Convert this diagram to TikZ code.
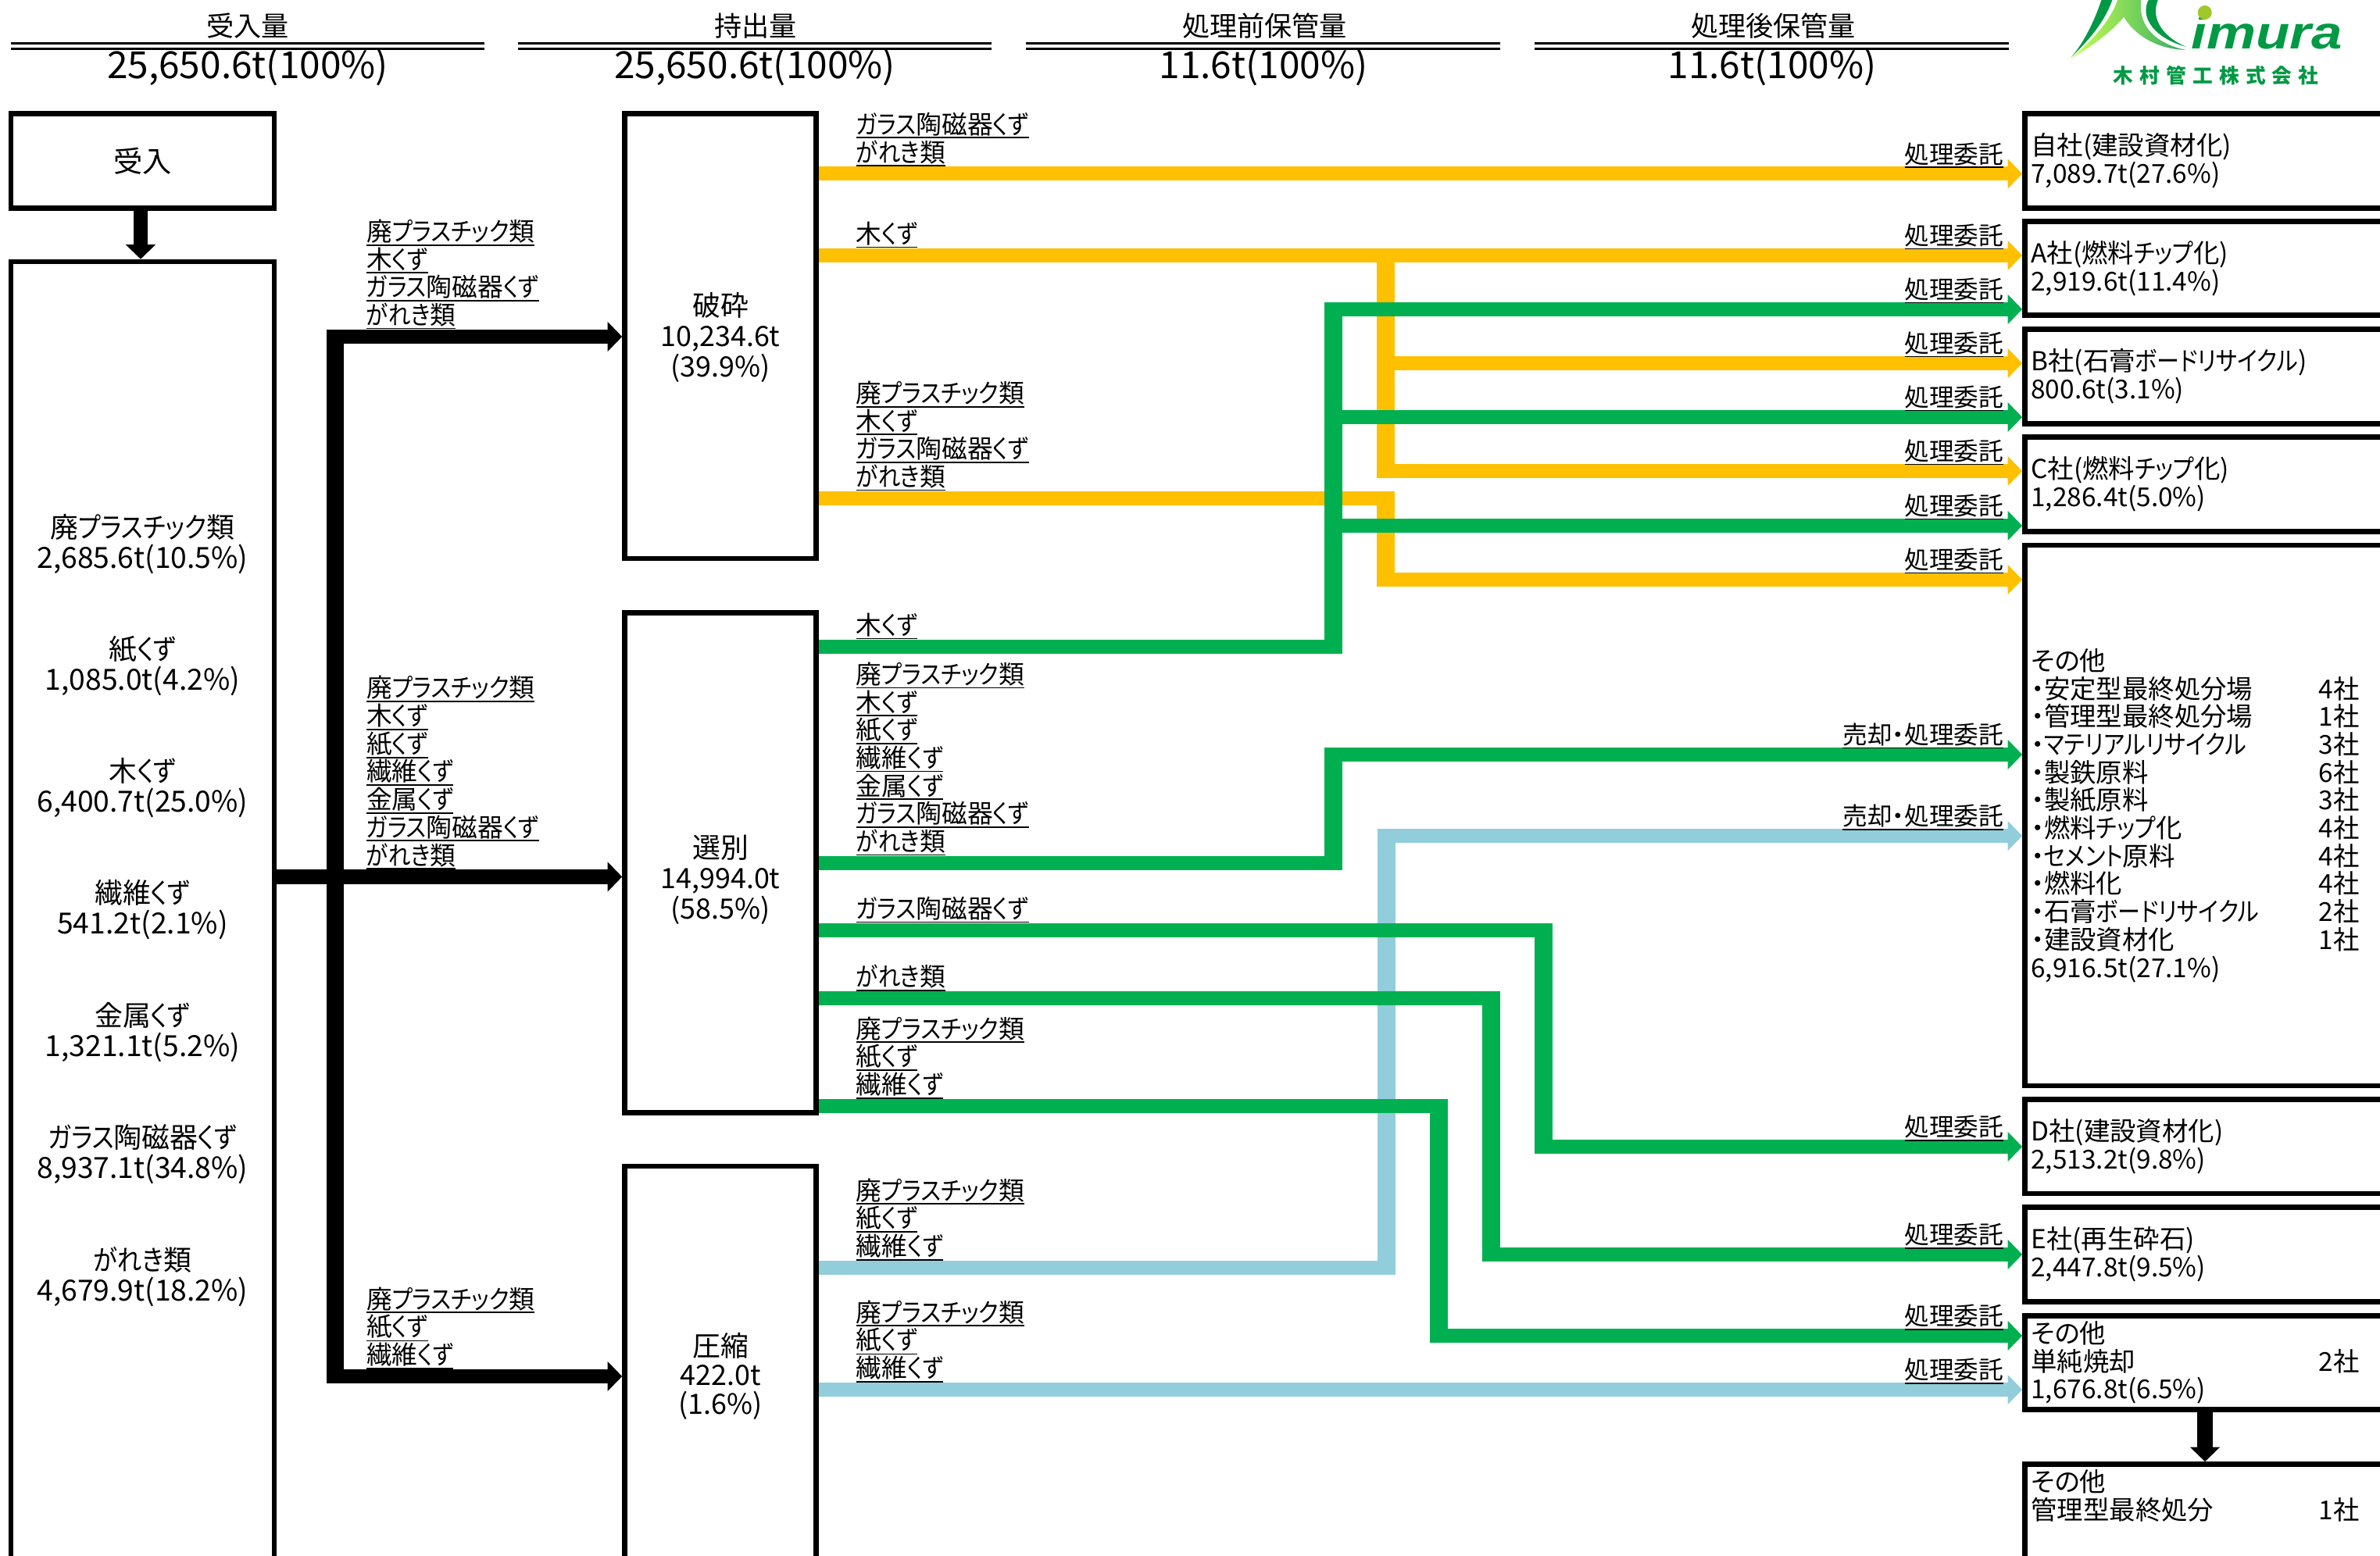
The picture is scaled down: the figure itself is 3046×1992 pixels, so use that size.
\documentclass[tikz,border=0pt]{standalone}
\usepackage{fontspec}
\usepackage{tikz}
\usetikzlibrary{arrows.meta}
\setmainfont{Noto Sans CJK JP}[RawFeature={+palt}]
\newfontfamily\kanafont{Noto Sans CJK JP}[RawFeature={+palt}, FakeStretch=.87]
\newfontfamily\logofont{Liberation Sans}
\newfontfamily\logojp{Noto Sans CJK JP}[LetterSpace=32]
\newcommand{\smallfont}{\fontsize{9.5}{10.15}\selectfont\lineskiplimit=-5pt }
\newcommand{\labfont}{\fontsize{9.3}{10.15}\selectfont\lineskiplimit=-5pt }
\newcommand{\midfont}{\fontsize{10.2}{11.1}\selectfont\lineskiplimit=-5pt }
\newcommand{\tightfont}{\fontsize{10.2}{10.5}\selectfont\lineskiplimit=-5pt }
\newcommand{\kn}[1]{{\kanafont #1}}
\newcommand{\kul}[1]{\vtop{\hbox{#1}\kern.4pt\hrule height .55pt}}
\newcommand{\kval}[1]{{\fontsize{10.6}{11.1}\selectfont #1}}
\newcommand{\kcount}[2]{\makebox[4.2cm][l]{#1\hfill #2}}
\newcommand{\kpla}{廃\kn{プラスチック}類}
\newcommand{\kwood}{木\kn{くず}}
\newcommand{\kpaper}{紙\kn{くず}}
\newcommand{\kfiber}{繊維\kn{くず}}
\newcommand{\kmetal}{金属\kn{くず}}
\newcommand{\kglass}{\kn{ガラス}陶磁器\kn{くず}}
\newcommand{\krubble}{\kn{がれき}類}
\newcommand{\kitaku}{\kul{処理委託}}
\newcommand{\ksale}{\kul{売却・処理委託}}
\definecolor{oflow}{HTML}{FFC000}
\definecolor{gflow}{HTML}{00B050}
\definecolor{lflow}{HTML}{92CDDC}
\definecolor{kgreen}{HTML}{009944}

\begin{document}
\begin{tikzpicture}[
                x = .01cm, y = -.01cm,
                > = {Triangle[length=.185cm, width=.37cm]},
                box/.style={ rectangle, draw = black, line width = .065cm, inner sep = 0pt, font = \midfont, align = center },
                side/.style={ box, minimum width = 4.61cm, text width = 4.45cm, align = left, font = \smallfont },
                item/.style={ font = \midfont, align = center, inner sep = 0pt },
                head/.style={ font = \fontsize{10}{11}\selectfont, inner sep = 0pt },
                total/.style={ font = \fontsize{13.6}{14}\selectfont, inner sep = 0pt },
                hline/.style={ line width = .033cm, double, double distance = .033cm },
                oline/.style={ oflow, line width = .18cm },
                gline/.style={ gflow, line width = .18cm },
                lline/.style={ lflow, line width = .18cm },
                kline/.style={ black, line width = .18cm },
                obar/.style={ oflow, line width = .23cm },
                gbar/.style={ gflow, line width = .23cm },
                lbar/.style={ lflow, line width = .23cm },
                kbar/.style={ black, line width = .225cm },
                lab/.style={ pos = 0, anchor = south west, xshift = .48cm, yshift = .095cm, inner sep = 0pt, outer sep = 0pt, align = left, font = \labfont, black },
                task/.style={ pos = 1, anchor = south east, xshift = -.24cm, yshift = .075cm, inner sep = 0pt, outer sep = 0pt, font = \fontsize{9}{10}\selectfont, black }
            ]
            \useasboundingbox (0, 0) rectangle (3046, 1992);
            \clip (0, 0) rectangle (3046, 1992);

            % headings
            \node (h1) [head] at (317, 33) {受入量};
            \node (h2) [head] at (967, 33) {持出量};
            \node (h3) [head] at (1618.5, 33) {処理前保管量};
            \node (h4) [head] at (2269.5, 33) {処理後保管量};
            \draw [hline] (14, 59) -- (620, 59);
            \draw [hline] (663, 59) -- (1269, 59);
            \draw [hline] (1313, 59) -- (1920, 59);
            \draw [hline] (1964, 59) -- (2571, 59);
            \node (t1) [total] at (317, 86) {25,650.6t(100\%)};
            \node (t2) [total] at (966, 86) {25,650.6t(100\%)};
            \node (t3) [total] at (1617, 86) {11.6t(100\%)};
            \node (t4) [total] at (2268, 86) {11.6t(100\%)};

            % logo
            \begin{scope}[shift={(2640, 0)}, x = .00333cm, y = -.00333cm]
                \fill [kgreen] (150, -5) .. controls (120, 90) and (70, 180) .. (30, 222)
                    .. controls (90, 165) and (160, 90) .. (192, -5) -- cycle;
                \shade [left color = yellow!70!green!70, right color = kgreen!80] (212, -5)
                    .. controls (190, 70) and (120, 150) .. (35, 222)
                    .. controls (110, 180) and (190, 120) .. (235, 65)
                    .. controls (270, 130) and (360, 190) .. (472, 192)
                    .. controls (370, 170) and (285, 110) .. (302, -5) -- cycle;
                \fill [kgreen] (332, -5) .. controls (290, 70) and (360, 150) .. (475, 180)
                    .. controls (400, 150) and (330, 80) .. (368, -5) -- cycle;
            \end{scope}
            \node (imura) [kgreen, font = \logofont\bfseries\itshape\fontsize{16.8}{17}\selectfont, xscale = 1.2, transform shape, anchor = base west, inner sep = 0pt] at (2804, 63) {imura};
            \fill [yellow!65!green!90!black] (2821.7, 16) circle [radius = 9];
            \node (company) [kgreen, font = \logojp\bfseries\fontsize{7.3}{8}\selectfont, inner sep = 0pt] at (2836, 97) {木村管工株式会社};

            % boxes on the left and in the middle
            \node (ukeire) [box, minimum width = 3.37cm, minimum height = 1.21cm, font = \fontsize{10.6}{11}\selectfont] at (182.5, 206) {受入};
            \node (hinmoku) [box, minimum width = 3.37cm, minimum height = 17.64cm] at (182.5, 1217.5) {};
            \node (i1) [item] at (182.5, 697) {\kpla\\\kval{2,685.6t(10.5\%)}};
            \node (i2) [item] at (182.5, 853) {\kpaper\\\kval{1,085.0t(4.2\%)}};
            \node (i3) [item] at (182.5, 1009) {\kwood\\\kval{6,400.7t(25.0\%)}};
            \node (i4) [item] at (182.5, 1165) {\kfiber\\\kval{541.2t(2.1\%)}};
            \node (i5) [item] at (182.5, 1322) {\kmetal\\\kval{1,321.1t(5.2\%)}};
            \node (i6) [item] at (182.5, 1478) {\kglass\\\kval{8,937.1t(34.8\%)}};
            \node (i7) [item] at (182.5, 1634) {\krubble\\\kval{4,679.9t(18.2\%)}};

            \node (hasai) [box, minimum width = 2.45cm, minimum height = 5.695cm] at (922, 430.25) {};
            \node (hasait) [item] at (922, 432) {破砕\\10,234.6t\\(39.9\%)};
            \node (senbetsu) [box, minimum width = 2.45cm, minimum height = 6.40cm] at (922, 1104.5) {};
            \node (sent) [item] at (922, 1126) {選別\\14,994.0t\\(58.5\%)};
            \node (asshuku) [box, minimum width = 2.45cm, minimum height = 5.34cm] at (922, 1760) {};
            \node (assht) [item, font = \tightfont] at (922, 1762) {圧縮\\422.0t\\(1.6\%)};

            % boxes on the right
            \node (jisha) [side, minimum height = 1.21cm] at (2822, 206) {自社(建設資材化)\\7,089.7t(27.6\%)};
            \node (asha) [side, minimum height = 1.20cm] at (2822, 343.5) {A社(燃料\kn{チップ}化)\\2,919.6t(11.4\%)};
            \node (bsha) [side, minimum height = 1.21cm] at (2822, 482) {B社(石膏\kn{ボードリサイクル})\\800.6t(3.1\%)};
            \node (csha) [side, minimum height = 1.21cm] at (2822, 620) {C社(燃料\kn{チップ}化)\\1,286.4t(5.0\%)};
            \node (sonota) [side, minimum height = 6.915cm] at (2822, 1044) {その他\\
                \kcount{・安定型最終処分場}{4社}\\
                \kcount{・管理型最終処分場}{1社}\\
                \kcount{・\kn{マテリアルリサイクル}}{3社}\\
                \kcount{・製鉄原料}{6社}\\
                \kcount{・製紙原料}{3社}\\
                \kcount{・燃料\kn{チップ}化}{4社}\\
                \kcount{・\kn{セメント}原料}{4社}\\
                \kcount{・燃料化}{4社}\\
                \kcount{・石膏\kn{ボードリサイクル}}{2社}\\
                \kcount{・建設資材化}{1社}\\
                6,916.5t(27.1\%)};
            \node (dsha) [side, minimum height = 1.205cm] at (2822, 1467.75) {D社(建設資材化)\\2,513.2t(9.8\%)};
            \node (esha) [side, minimum height = 1.21cm] at (2822, 1606) {E社(再生砕石)\\2,447.8t(9.5\%)};
            \node (shokyaku) [side, minimum height = 1.20cm] at (2822, 1744.5) {その他\\\kcount{単純焼却}{2社}\\1,676.8t(6.5\%)};
            \node (saishu) [side, minimum height = 2.51cm] at (2822, 2000) {};
            \node (saishut) [inner sep = 0pt, text width = 4.45cm, align = left, font = \smallfont] at (2822, 1915) {その他\\\kcount{管理型最終処分}{1社}};

            % orange routes
            \draw [oline, ->] (hasai.east |- 0, 222.5) -- node[lab]{\kul{\kglass}\\\kul{\krubble}} node[task]{\kitaku} (jisha.west |- 0, 222.5);
            \draw [oline, ->] (hasai.east |- 0, 327) -- node[lab]{\kul{\kwood}} node[task]{\kitaku} (asha.west |- 0, 327);
            \draw [obar] (1773.5, 318) -- (1773.5, 612);
            \draw [oline, ->] (1773.5, 465) -- node[task]{\kitaku} (bsha.west |- 0, 465);
            \draw [oline, ->] (1773.5, 603) -- node[task]{\kitaku} (csha.west |- 0, 603);
            \draw [oline] (hasai.east |- 0, 638) -- node[lab]{\kul{\kpla}\\\kul{\kwood}\\\kul{\kglass}\\\kul{\krubble}} (1785, 638);
            \draw [obar] (1773.5, 629) -- (1773.5, 751);
            \draw [oline, ->] (1773.5, 742) -- node[task]{\kitaku} (sonota.west |- 0, 742);

            % light blue routes
            \draw [lline] (asshuku.east |- 0, 1623) -- node[lab]{\kul{\kpla}\\\kul{\kpaper}\\\kul{\kfiber}} (1785.5, 1623);
            \draw [lbar] (1774, 1632) -- (1774, 1061);
            \draw [lline, ->] (1774, 1070) -- node[task]{\ksale} (sonota.west |- 0, 1070);
            \draw [lline, ->] (asshuku.east |- 0, 1779) -- node[lab]{\kul{\kpla}\\\kul{\kpaper}\\\kul{\kfiber}} node[task]{\kitaku} (shokyaku.west |- 0, 1779);

            % green routes
            \draw [gline] (senbetsu.east |- 0, 828) -- node[lab]{\kul{\kwood}} (1717.5, 828);
            \draw [gbar] (1706, 837) -- (1706, 387);
            \draw [gline, ->] (1706, 396) -- node[task]{\kitaku} (asha.west |- 0, 396);
            \draw [gline, ->] (1706, 534) -- node[task]{\kitaku} (bsha.west |- 0, 534);
            \draw [gline, ->] (1706, 673) -- node[task]{\kitaku} (csha.west |- 0, 673);
            \draw [gline] (senbetsu.east |- 0, 1105) -- node[lab]{\kul{\kpla}\\\kul{\kwood}\\\kul{\kpaper}\\\kul{\kfiber}\\\kul{\kmetal}\\\kul{\kglass}\\\kul{\krubble}} (1717.5, 1105);
            \draw [gbar] (1706, 1114) -- (1706, 957);
            \draw [gline, ->] (1706, 966) -- node[task]{\ksale} (sonota.west |- 0, 966);
            \draw [gline] (senbetsu.east |- 0, 1191) -- node[lab]{\kul{\kglass}} (1986.5, 1191);
            \draw [gbar] (1975, 1182) -- (1975, 1477);
            \draw [gline, ->] (1975, 1468) -- node[task]{\kitaku} (dsha.west |- 0, 1468);
            \draw [gline] (senbetsu.east |- 0, 1278) -- node[lab]{\kul{\krubble}} (1919.5, 1278);
            \draw [gbar] (1908, 1269) -- (1908, 1615);
            \draw [gline, ->] (1908, 1606) -- node[task]{\kitaku} (esha.west |- 0, 1606);
            \draw [gline] (senbetsu.east |- 0, 1416) -- node[lab]{\kul{\kpla}\\\kul{\kpaper}\\\kul{\kfiber}} (1852.5, 1416);
            \draw [gbar] (1841, 1407) -- (1841, 1719);
            \draw [gline, ->] (1841, 1710) -- node[task]{\kitaku} (shokyaku.west |- 0, 1710);

            % black routes
            \draw [kline, ->, line width = .18cm] ([xshift = -.025cm]ukeire.south) -- ([xshift = -.025cm]hinmoku.north);
            \draw [kline] (hinmoku.east |- 0, 1122.5) -- (429, 1122.5);
            \draw [kbar] (429, 422) -- (429, 1771);
            \draw [kline, ->] (417.5, 431) -- node[lab, xshift = .035cm]{\kul{\kpla}\\\kul{\kwood}\\\kul{\kglass}\\\kul{\krubble}} (hasai.west |- 0, 431);
            \draw [kline, ->] (417.5, 1122.5) -- node[lab, xshift = .035cm]{\kul{\kpla}\\\kul{\kwood}\\\kul{\kpaper}\\\kul{\kfiber}\\\kul{\kmetal}\\\kul{\kglass}\\\kul{\krubble}} (senbetsu.west |- 0, 1122.5);
            \draw [kline, ->] (417.5, 1762) -- node[lab, xshift = .035cm]{\kul{\kpla}\\\kul{\kpaper}\\\kul{\kfiber}} (asshuku.west |- 0, 1762);
            \draw [kline, ->, line width = .2cm] (shokyaku.south) -- (saishu.north);
        \end{tikzpicture}
\end{document}
